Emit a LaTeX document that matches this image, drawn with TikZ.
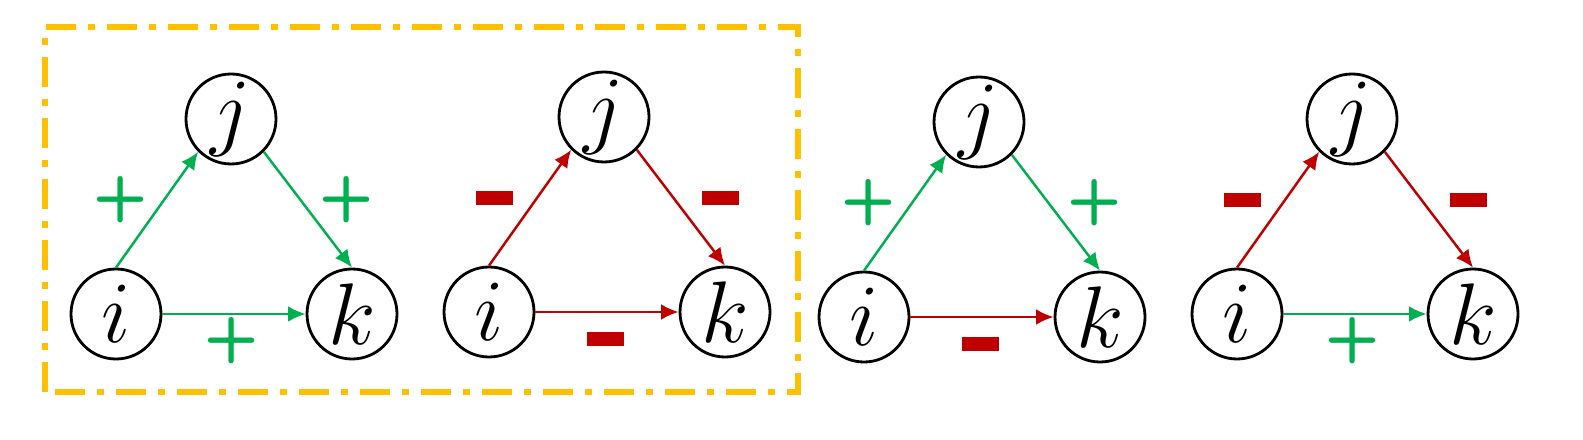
\documentclass[tikz,border=0pt]{standalone}
\usetikzlibrary{arrows.meta}
\definecolor{grn}{HTML}{00B050}
\definecolor{rd}{HTML}{C00000}
\definecolor{org}{HTML}{FFC000}

\begin{document}
\begin{tikzpicture}[line width=0.7pt]
    \tikzstyle{vertex}=[circle,draw=black,line width=0.8pt,minimum size=0.9cm,inner sep=0pt,font=\fontsize{24}{24}\selectfont]
    \tikzstyle{pe}=[draw=grn,-{Latex[length=5pt,width=4.5pt]}]
    \tikzstyle{ne}=[draw=rd,-{Latex[length=5pt,width=4.5pt]}]
    \tikzstyle{pl}=[text=grn,font=\sffamily\bfseries\fontsize{18}{18}\selectfont,inner sep=0pt,node contents={+}]
    \tikzstyle{mi}=[fill=rd,minimum width=0.37cm,minimum height=0.14cm,inner sep=0pt,node contents={}]

    \useasboundingbox (0,0) rectangle (15.83,4.39);

    % group box
    \draw[org,line width=1.5pt,dash pattern=on 0.3cm off 0.12cm on 0.07cm off 0.12cm] (0.45,0.47) rectangle (7.98,4.12);

    \foreach \n/\x/\y/\eij/\ejk/\eik/\lij/\ljk/\lik in {1/1.16/1.25/pe/pe/pe/pl/pl/pl,
        2/4.89/1.27/ne/ne/ne/mi/mi/mi, 3/8.64/1.22/pe/pe/ne/pl/pl/mi, 4/12.37/1.25/ne/ne/pe/mi/mi/pl} {
        \node[vertex] (i\n) at (\x,\y) {$i$};
        \node[vertex] (j\n) at (\x+1.15,\y+1.95) {$j$};
        \node[vertex] (k\n) at (\x+2.36,\y) {$k$};
        \draw[\eij] (i\n.north) -- (j\n.south west);
        \draw[\ejk] (j\n.south east) -- (k\n.north);
        \draw[\eik] (i\n.east) -- (k\n.west);
        \node[\lij,at={(\x+0.05,\y+1.14)}];
        \node[\ljk,at={(\x+2.31,\y+1.14)}];
        \node[\lik,at={(\x+1.16,\y-0.27)}];
    }
\end{tikzpicture}
\end{document}
